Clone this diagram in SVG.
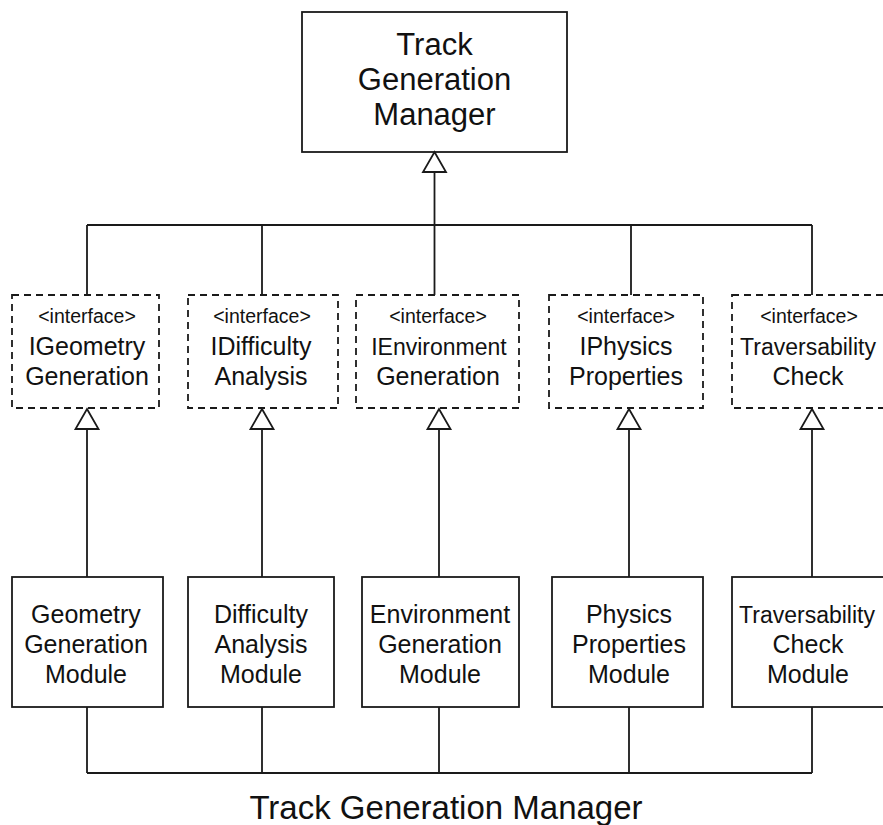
<svg xmlns="http://www.w3.org/2000/svg" width="883" height="825" viewBox="0 0 883 825">
  <style>
    .box { fill: #ffffff; stroke: #1a1a1a; stroke-width: 1.8; }
    .iface { fill: #ffffff; stroke: #1a1a1a; stroke-width: 1.8; stroke-dasharray: 7 5; }
    .wire { fill: none; stroke: #1a1a1a; stroke-width: 1.8; }
    .head { fill: #ffffff; stroke: #1a1a1a; stroke-width: 1.8; stroke-linejoin: miter; }
    text { font-family: "Liberation Sans", Arial, Helvetica, sans-serif; fill: #111111; text-anchor: middle; }
    .big { font-size: 31px; }
    .caption { font-size: 33px; }
    .lbl { font-size: 25px; }
    .stereo { font-size: 19.5px; }
    .mod { font-size: 25px; }
    .narrow { font-size: 23px; }
  </style>
  <defs>
    <!-- hollow generalisation triangle, tip at origin pointing up -->
    <path id="tri" d="M0 0 L11.5 20 L-11.5 20 Z"/>
  </defs>
  <rect width="883" height="825" fill="#ffffff"/>

  <!-- connectors -->
  <g id="connectors">
    <!-- manager to interface bus -->
    <path class="wire" d="M434.5 172 V225"/>
    <path class="wire" d="M87 225 H812"/>
    <path class="wire" d="M87 225 V295 M262 225 V295 M434.5 225 V295 M631 225 V295 M812 225 V295"/>
    <!-- module to interface realisations -->
    <path class="wire" d="M87 429 V577 M262 429 V577 M439 429 V577 M629 429 V577 M812 429 V577"/>
    <!-- module to bottom bus -->
    <path class="wire" d="M87 707 V773 M262 707 V773 M439 707 V773 M629 707 V773 M812 707 V773"/>
    <path class="wire" d="M87 773 H812"/>
  </g>

  <g id="manager">
    <rect class="box" x="302" y="12" width="265" height="140"/>
    <text class="big" x="434.5" y="55">Track</text>
    <text class="big" x="434.5" y="90">Generation</text>
    <text class="big" x="434.5" y="125">Manager</text>
  </g>

  <g id="iface-geometry">
    <rect class="iface" x="12" y="295" width="147" height="113"/>
    <text class="stereo" x="87" y="323">&lt;interface&gt;</text>
    <text class="lbl" x="87" y="355">IGeometry</text>
    <text class="lbl" x="87" y="385">Generation</text>
  </g>
  <g id="iface-difficulty">
    <rect class="iface" x="188" y="295" width="150" height="113"/>
    <text class="stereo" x="262" y="323">&lt;interface&gt;</text>
    <text class="lbl" x="261" y="355">IDifficulty</text>
    <text class="lbl" x="261" y="385">Analysis</text>
  </g>
  <g id="iface-environment">
    <rect class="iface" x="356" y="295" width="163" height="113"/>
    <text class="stereo" x="438" y="323">&lt;interface&gt;</text>
    <text class="lbl narrow" x="439" y="355">IEnvironment</text>
    <text class="lbl" x="438" y="385">Generation</text>
  </g>
  <g id="iface-physics">
    <rect class="iface" x="549" y="295" width="154" height="113"/>
    <text class="stereo" x="626" y="323">&lt;interface&gt;</text>
    <text class="lbl" x="626" y="355">IPhysics</text>
    <text class="lbl" x="626" y="385">Properties</text>
  </g>
  <g id="iface-traversability">
    <rect class="iface" x="732" y="295" width="158" height="113"/>
    <text class="stereo" x="809" y="323">&lt;interface&gt;</text>
    <text class="lbl narrow" x="808" y="355">Traversability</text>
    <text class="lbl" x="808" y="385">Check</text>
  </g>

  <!-- generalisation arrowheads -->
  <g id="arrowheads">
    <use href="#tri" class="head" x="434.5" y="152"/>
    <use href="#tri" class="head" x="87" y="409"/>
    <use href="#tri" class="head" x="262" y="409"/>
    <use href="#tri" class="head" x="439" y="409"/>
    <use href="#tri" class="head" x="629" y="409"/>
    <use href="#tri" class="head" x="812" y="409"/>
  </g>

  <g id="mod-geometry">
    <rect class="box" x="12" y="577" width="151" height="130"/>
    <text class="mod" x="86" y="623">Geometry</text>
    <text class="mod" x="86" y="653">Generation</text>
    <text class="mod" x="86" y="683">Module</text>
  </g>
  <g id="mod-difficulty">
    <rect class="box" x="188" y="577" width="146" height="130"/>
    <text class="mod" x="261" y="623">Difficulty</text>
    <text class="mod" x="261" y="653">Analysis</text>
    <text class="mod" x="261" y="683">Module</text>
  </g>
  <g id="mod-environment">
    <rect class="box" x="362" y="577" width="157" height="130"/>
    <text class="mod" x="440" y="623">Environment</text>
    <text class="mod" x="440" y="653">Generation</text>
    <text class="mod" x="440" y="683">Module</text>
  </g>
  <g id="mod-physics">
    <rect class="box" x="552" y="577" width="151" height="130"/>
    <text class="mod" x="629" y="623">Physics</text>
    <text class="mod" x="629" y="653">Properties</text>
    <text class="mod" x="629" y="683">Module</text>
  </g>
  <g id="mod-traversability">
    <rect class="box" x="732" y="577" width="158" height="130"/>
    <text class="mod narrow" x="807" y="623">Traversability</text>
    <text class="mod" x="808" y="653">Check</text>
    <text class="mod" x="808" y="683">Module</text>
  </g>

  <g id="caption">
    <text class="caption" x="446" y="819">Track Generation Manager</text>
  </g>
</svg>
